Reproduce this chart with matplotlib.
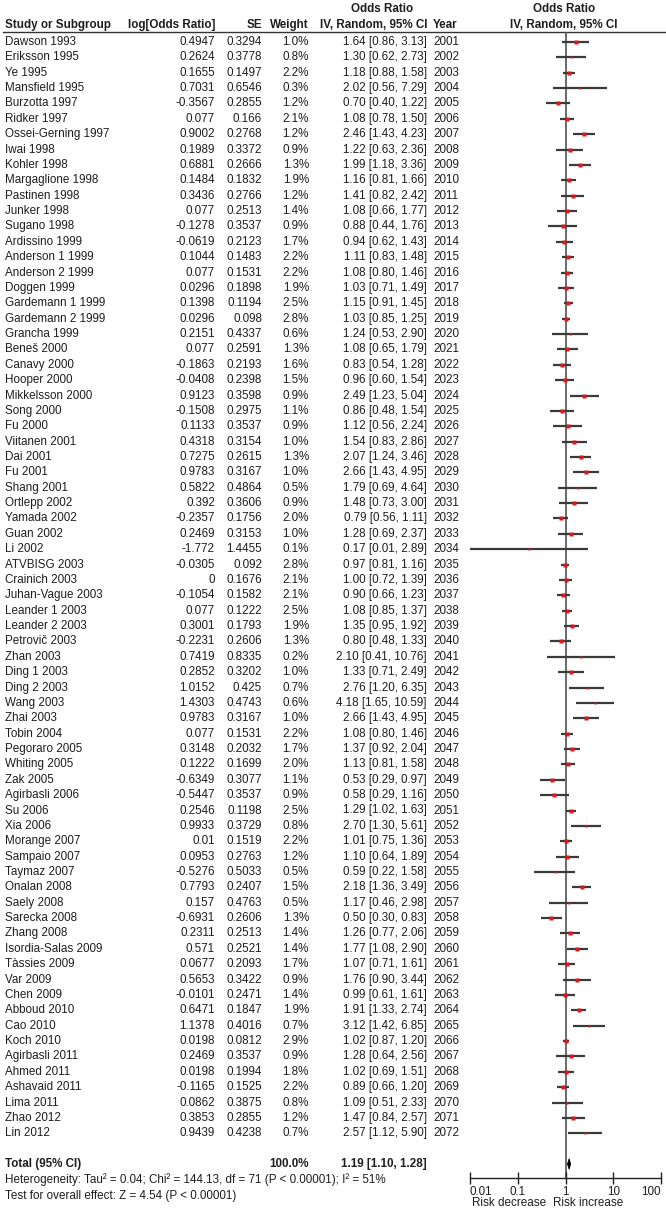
import matplotlib
matplotlib.use("Agg")
import matplotlib.pyplot as plt
import numpy as np

plt.rcParams['font.family'] = ['Liberation Sans', 'DejaVu Sans']

studies = ["Dawson 1993", "Eriksson 1995", "Ye 1995", "Mansfield 1995", "Burzotta 1997",
           "Ridker 1997", "Ossei-Gerning 1997", "Iwai 1998", "Kohler 1998", "Margaglione 1998",
           "Pastinen 1998", "Junker 1998", "Sugano 1998", "Ardissino 1999", "Anderson 1 1999",
           "Anderson 2 1999", "Doggen 1999", "Gardemann 1 1999", "Gardemann 2 1999", "Grancha 1999",
           "Beneš 2000", "Canavy 2000", "Hooper 2000", "Mikkelsson 2000", "Song 2000",
           "Fu 2000", "Viitanen 2001", "Dai 2001", "Fu 2001", "Shang 2001",
           "Ortlepp 2002", "Yamada 2002", "Guan 2002", "Li 2002", "ATVBISG 2003",
           "Crainich 2003", "Juhan-Vague 2003", "Leander 1 2003", "Leander 2 2003", "Petrovič 2003",
           "Zhan 2003", "Ding 1 2003", "Ding 2 2003", "Wang 2003", "Zhai 2003",
           "Tobin 2004", "Pegoraro 2005", "Whiting 2005", "Zak 2005", "Agirbasli 2006",
           "Su 2006", "Xia 2006", "Morange 2007", "Sampaio 2007", "Taymaz 2007",
           "Onalan 2008", "Saely 2008", "Sarecka 2008", "Zhang 2008", "Isordia-Salas 2009",
           "Tàssies 2009", "Var 2009", "Chen 2009", "Abboud 2010", "Cao 2010",
           "Koch 2010", "Agirbasli 2011", "Ahmed 2011", "Ashavaid 2011", "Lima 2011",
           "Zhao 2012", "Lin 2012"]

log_or = [0.4947, 0.2624, 0.1655, 0.7031, -0.3567, 0.077, 0.9002, 0.1989, 0.6881, 0.1484,
          0.3436, 0.077, -0.1278, -0.0619, 0.1044, 0.077, 0.0296, 0.1398, 0.0296, 0.2151,
          0.077, -0.1863, -0.0408, 0.9123, -0.1508, 0.1133, 0.4318, 0.7275, 0.9783, 0.5822,
          0.392, -0.2357, 0.2469, -1.772, -0.0305, 0, -0.1054, 0.077, 0.3001, -0.2231,
          0.7419, 0.2852, 1.0152, 1.4303, 0.9783, 0.077, 0.3148, 0.1222, -0.6349, -0.5447,
          0.2546, 0.9933, 0.01, 0.0953, -0.5276, 0.7793, 0.157, -0.6931, 0.2311, 0.571,
          0.0677, 0.5653, -0.0101, 0.6471, 1.1378, 0.0198, 0.2469, 0.0198, -0.1165, 0.0862,
          0.3853, 0.9439]

se = [0.3294, 0.3778, 0.1497, 0.6546, 0.2855, 0.166, 0.2768, 0.3372, 0.2666, 0.1832,
      0.2766, 0.2513, 0.3537, 0.2123, 0.1483, 0.1531, 0.1898, 0.1194, 0.098, 0.4337,
      0.2591, 0.2193, 0.2398, 0.3598, 0.2975, 0.3537, 0.3154, 0.2615, 0.3167, 0.4864,
      0.3606, 0.1756, 0.3153, 1.4455, 0.092, 0.1676, 0.1582, 0.1222, 0.1793, 0.2606,
      0.8335, 0.3202, 0.425, 0.4743, 0.3167, 0.1531, 0.2032, 0.1699, 0.3077, 0.3537,
      0.1198, 0.3729, 0.1519, 0.2763, 0.5033, 0.2407, 0.4763, 0.2606, 0.2513, 0.2521,
      0.2093, 0.3422, 0.2471, 0.1847, 0.4016, 0.0812, 0.3537, 0.1994, 0.1525, 0.3875,
      0.2855, 0.4238]

weight = [1.0, 0.8, 2.2, 0.3, 1.2, 2.1, 1.2, 0.9, 1.3, 1.9,
          1.2, 1.4, 0.9, 1.7, 2.2, 2.2, 1.9, 2.5, 2.8, 0.6,
          1.3, 1.6, 1.5, 0.9, 1.1, 0.9, 1.0, 1.3, 1.0, 0.5,
          0.9, 2.0, 1.0, 0.1, 2.8, 2.1, 2.1, 2.5, 1.9, 1.3,
          0.2, 1.0, 0.7, 0.6, 1.0, 2.2, 1.7, 2.0, 1.1, 0.9,
          2.5, 0.8, 2.2, 1.2, 0.5, 1.5, 0.5, 1.3, 1.4, 1.4,
          1.7, 0.9, 1.4, 1.9, 0.7, 2.9, 0.9, 1.8, 2.2, 0.8,
          1.2, 0.7]

odds_ratio = [1.64, 1.30, 1.18, 2.02, 0.70, 1.08, 2.46, 1.22, 1.99, 1.16,
              1.41, 1.08, 0.88, 0.94, 1.11, 1.08, 1.03, 1.15, 1.03, 1.24,
              1.08, 0.83, 0.96, 2.49, 0.86, 1.12, 1.54, 2.07, 2.66, 1.79,
              1.48, 0.79, 1.28, 0.17, 0.97, 1.00, 0.90, 1.08, 1.35, 0.80,
              2.10, 1.33, 2.76, 4.18, 2.66, 1.08, 1.37, 1.13, 0.53, 0.58,
              1.29, 2.70, 1.01, 1.10, 0.59, 2.18, 1.17, 0.50, 1.26, 1.77,
              1.07, 1.76, 0.99, 1.91, 3.12, 1.02, 1.28, 1.02, 0.89, 1.09,
              1.47, 2.57]

ci_low = [0.86, 0.62, 0.88, 0.56, 0.40, 0.78, 1.43, 0.63, 1.18, 0.81,
          0.82, 0.66, 0.44, 0.62, 0.83, 0.80, 0.71, 0.91, 0.85, 0.53,
          0.65, 0.54, 0.60, 1.23, 0.48, 0.56, 0.83, 1.24, 1.43, 0.69,
          0.73, 0.56, 0.69, 0.01, 0.81, 0.72, 0.66, 0.85, 0.95, 0.48,
          0.41, 0.71, 1.20, 1.65, 1.43, 0.80, 0.92, 0.81, 0.29, 0.29,
          1.02, 1.30, 0.75, 0.64, 0.22, 1.36, 0.46, 0.30, 0.77, 1.08,
          0.71, 0.90, 0.61, 1.33, 1.42, 0.87, 0.64, 0.69, 0.66, 0.51,
          0.84, 1.12]

ci_high = [3.13, 2.73, 1.58, 7.29, 1.22, 1.50, 4.23, 2.36, 3.36, 1.66,
           2.42, 1.77, 1.76, 1.43, 1.48, 1.46, 1.49, 1.45, 1.25, 2.90,
           1.79, 1.28, 1.54, 5.04, 1.54, 2.24, 2.86, 3.46, 4.95, 4.64,
           3.00, 1.11, 2.37, 2.89, 1.16, 1.39, 1.23, 1.37, 1.92, 1.33,
           10.76, 2.49, 6.35, 10.59, 4.95, 1.46, 2.04, 1.58, 0.97, 1.16,
           1.63, 5.61, 1.36, 1.89, 1.58, 3.49, 2.98, 0.83, 2.06, 2.90,
           1.61, 3.44, 1.61, 2.74, 6.85, 1.20, 2.56, 1.51, 1.20, 2.33,
           2.57, 5.90]

years = [2001, 2002, 2003, 2004, 2005, 2006, 2007, 2008, 2009, 2010,
         2011, 2012, 2013, 2014, 2015, 2016, 2017, 2018, 2019, 2020,
         2021, 2022, 2023, 2024, 2025, 2026, 2027, 2028, 2029, 2030,
         2031, 2032, 2033, 2034, 2035, 2036, 2037, 2038, 2039, 2040,
         2041, 2042, 2043, 2044, 2045, 2046, 2047, 2048, 2049, 2050,
         2051, 2052, 2053, 2054, 2055, 2056, 2057, 2058, 2059, 2060,
         2061, 2062, 2063, 2064, 2065, 2066, 2067, 2068, 2069, 2070,
         2071, 2072]

total_weight = 100.0
total_or, total_low, total_high = 1.19, 1.10, 1.28
heterogeneity = "Heterogeneity: Tau² = 0.04; Chi² = 144.13, df = 71 (P < 0.00001); I² = 51%"
overall = "Test for overall effect: Z = 4.54 (P < 0.00001)"
axis_ticks = [0.01, 0.1, 1, 10, 100]
axis_ticklabels = ["0.01", "0.1", "1", "10", "100"]

# ---------------- layout ----------------
W, H = 666, 1210
fig = plt.figure(figsize=(W / 100, H / 100), dpi=100)
fig.patch.set_facecolor("white")

ROW0 = 42.0      # pixel y of the first row
STEP = 15.37     # pixel height of one row


def row_of(py):
    return (py - ROW0) / STEP


TXT = "#1e1e1e"
FS = 8.4

ax_t = fig.add_axes([0, 0, 1, 1])
ax_t.set_xlim(0, W)
ax_t.set_ylim(row_of(H), row_of(0))
ax_t.axis("off")

n = len(studies)
rows = np.arange(n)
total_row = n + 1

# header
hdr1 = row_of(9)
hdr2 = row_of(25)
line_y = row_of(31.5)
bold = dict(fontsize=FS, fontweight="bold", color=TXT, va="center")
ax_t.text(5, hdr2, "Study or Subgroup", ha="left", **bold)
ax_t.text(215, hdr2, "log[Odds Ratio]", ha="right", **bold)
ax_t.text(262, hdr2, "SE", ha="right", **bold)
ax_t.text(309, hdr2, "Weight", ha="right", **bold)
ax_t.text(427, hdr2, "IV, Random, 95% CI", ha="right", **bold)
ax_t.text(382, hdr1, "Odds Ratio", ha="center", **bold)
ax_t.text(433, hdr2, "Year", ha="left", **bold)
ax_t.text(564, hdr1, "Odds Ratio", ha="center", **bold)
ax_t.text(564, hdr2, "IV, Random, 95% CI", ha="center", **bold)
ax_t.plot([3, W], [line_y, line_y], color="#333333", lw=1.0)

norm = dict(fontsize=FS, color=TXT, va="center")
for i in range(n):
    ax_t.text(5, rows[i], studies[i], ha="left", **norm)
    ax_t.text(215, rows[i], f"{log_or[i]:g}", ha="right", **norm)
    ax_t.text(262, rows[i], f"{se[i]:g}", ha="right", **norm)
    ax_t.text(309, rows[i], f"{weight[i]:.1f}%", ha="right", **norm)
    ax_t.text(427, rows[i], f"{odds_ratio[i]:.2f} [{ci_low[i]:.2f}, {ci_high[i]:.2f}]",
              ha="right", **norm)
    ax_t.text(433, rows[i], f"{years[i]}", ha="left", **norm)

ax_t.text(5, total_row, "Total (95% CI)", ha="left", **bold)
ax_t.text(309, total_row, f"{total_weight:.1f}%", ha="right", **bold)
ax_t.text(427, total_row, f"{total_or:.2f} [{total_low:.2f}, {total_high:.2f}]", ha="right", **bold)
ax_t.text(5, row_of(1180), heterogeneity, ha="left", **norm)
ax_t.text(5, row_of(1196), overall, ha="left", **norm)

# ---------------- forest ----------------
x_left, x_right = 470, 661
y_top, y_axis = 31.5, 1178
ax_f = fig.add_axes([x_left / W, (H - y_axis) / H, (x_right - x_left) / W, (y_axis - y_top) / H])
ax_f.set_xscale("log")
ax_f.set_xlim(0.01, 100)
ax_f.set_ylim(row_of(y_axis), row_of(y_top))
ax_f.patch.set_alpha(0)
for s in ("left", "right", "top"):
    ax_f.spines[s].set_visible(False)
ax_f.spines["bottom"].set_color("#222222")
ax_f.spines["bottom"].set_linewidth(1.0)
ax_f.set_yticks([])
ax_f.set_xticks(axis_ticks)
ax_f.set_xticklabels(axis_ticklabels)
ax_f.xaxis.set_minor_locator(matplotlib.ticker.NullLocator())
ax_f.tick_params(axis="x", direction="inout", length=9, width=1.0, color="#222222",
                 labelsize=FS, labelcolor=TXT, pad=1)
labels = ax_f.get_xticklabels()
labels[0].set_horizontalalignment("left")
labels[-1].set_horizontalalignment("right")

ax_f.axvline(1, color="#505050", lw=1.2, zorder=1)
ax_f.hlines(rows, ci_low, ci_high, color="#3a3a3a", lw=1.6, zorder=2)
msize = 1.6 + 0.6 * np.sqrt(np.array(weight))
for i in range(n):
    ax_f.plot(odds_ratio[i], rows[i], marker="s", ms=msize[i], color="#e0161e",
              mec="none", zorder=3)

dh = 0.34
ax_f.fill([total_low, total_or, total_high, total_or],
          [total_row, total_row - dh, total_row, total_row + dh],
          color="black", lw=0.6, zorder=3)

ax_t.text(546, row_of(1203), "Risk decrease", ha="right", **norm)
ax_t.text(553, row_of(1203), "Risk increase", ha="left", **norm)

fig.savefig("out.png", dpi=100, facecolor="white")
